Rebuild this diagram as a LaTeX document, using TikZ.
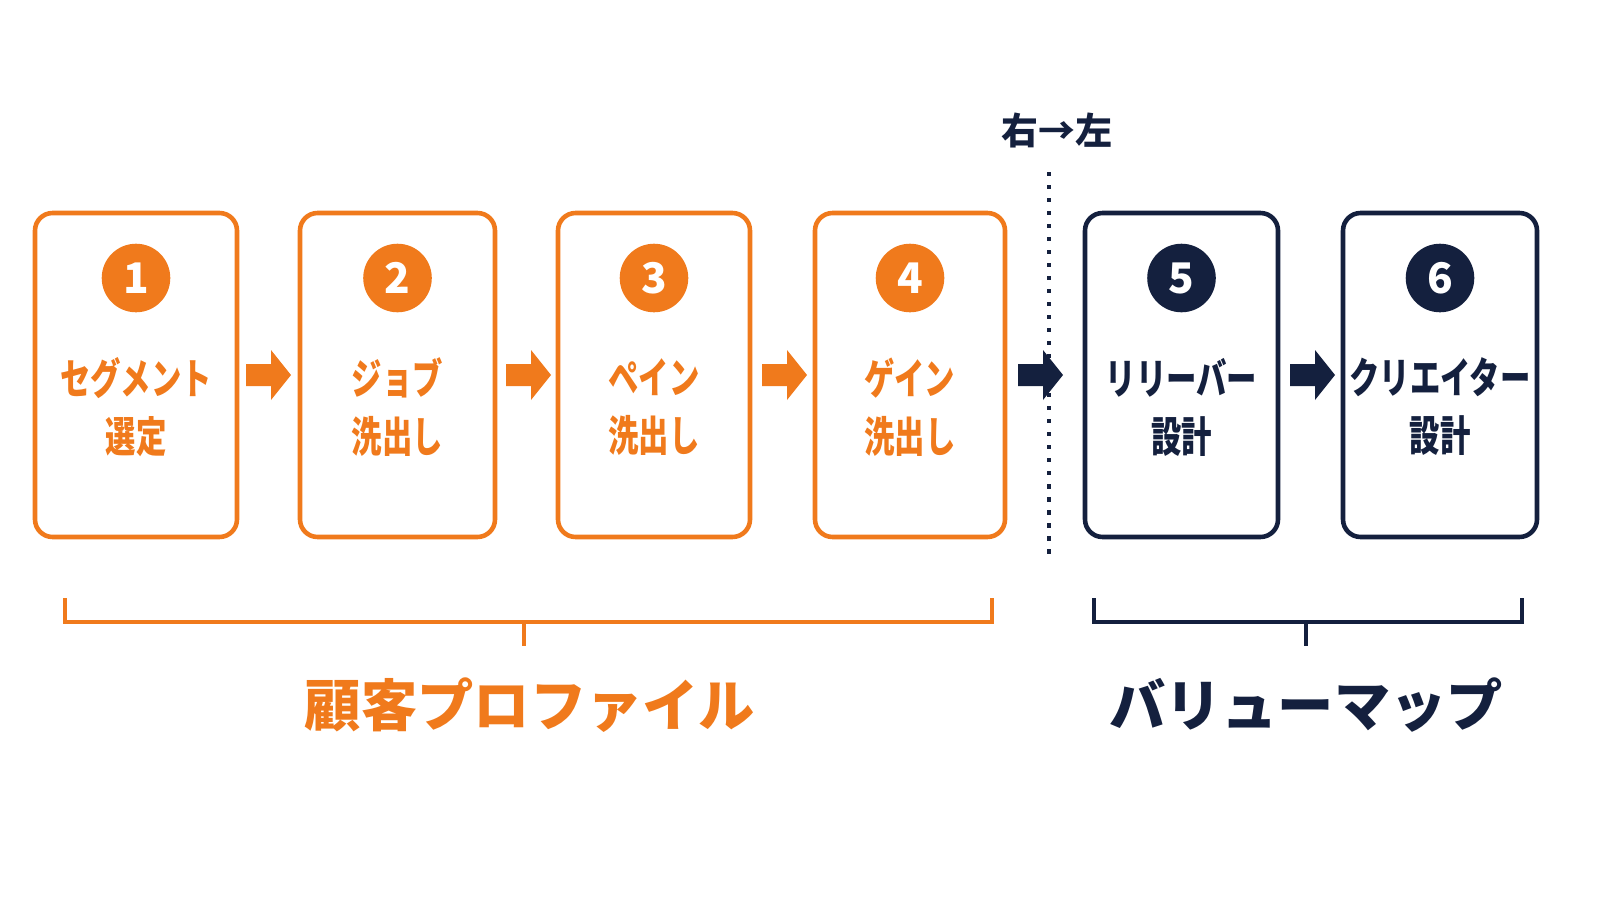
\documentclass[tikz,border=0pt]{standalone}
\usepackage{fontspec}
\setmainfont{Noto Sans CJK JP}
\newfontfamily\narrowjp[FakeStretch=0.72]{Noto Sans CJK JP}
\usetikzlibrary{calc}
\definecolor{ora}{HTML}{F07A1C}
\definecolor{nav}{HTML}{14203E}
\tikzset{
  step/.style={draw=#1,line width=1.3pt,rounded corners=5pt},
  num/.style={circle,fill=#1,text=white,minimum size=19.5pt,inner sep=0pt,font=\bfseries\fontsize{12}{12}\selectfont},
  title/.style={text=#1,align=center,inner sep=0pt,font=\narrowjp\bfseries\fontsize{12}{16.5}\selectfont},
  brace/.style={draw=#1,line width=1.1pt}
}
\newcommand\blockarrow[2]{\fill[#1] (#2) ++(-22,-11) -- ++(25,0) -- ++(0,-14) -- ++(20,25) -- ++(-20,25) -- ++(0,-14) -- ++(-25,0) -- cycle;}
\begin{document}
\begin{tikzpicture}[x=0.01cm,y=-0.01cm]
% cards
\foreach \n/\xa/\xb/\c/\t in {1/35/237/ora/{セグメント\\選定},2/300/495/ora/{ジョブ\\洗出し},3/558/750/ora/{ペイン\\洗出し},4/815/1005/ora/{ゲイン\\洗出し},5/1085/1278/nav/{リリーバー\\設計},6/1343/1537/nav/{クリエイター\\設計}}{
  \draw[step=\c] (\xa,213) rectangle (\xb,537);
  \node[num=\c] (n\n) at ({(\xa+\xb)/2},278) {\n};
  \node[title=\c] (t\n) at ({(\xa+\xb)/2},407) {\t};
}
% arrows
\coordinate (a1) at (268,375);
\coordinate (a2) at (528,375);
\coordinate (a3) at (784,375);
\coordinate (a4) at (1040,375);
\coordinate (a5) at (1312,375);
% divider
\coordinate (d1) at (1049,172);
\coordinate (d2) at (1049,562);
\draw[nav,line width=1pt,dash pattern=on 1.2pt off 2.5pt] (d1) -- (d2);
\blockarrow{ora}{a1}
\blockarrow{ora}{a2}
\blockarrow{ora}{a3}
\blockarrow{nav}{a4}
\blockarrow{nav}{a5}
\node[text=nav,font=\bfseries\fontsize{10.5}{10.5}\selectfont] (rl) at (1057,130) {右→左};
% brackets
\draw[brace=ora] (65,598) -- (65,622) -- (992,622) -- (992,598);
\draw[brace=ora] (524,622) -- (524,646);
\node[text=ora,font=\bfseries\fontsize{16}{16}\selectfont] (cp) at (530,705) {顧客プロファイル};
\draw[brace=nav] (1094,598) -- (1094,622) -- (1522,622) -- (1522,598);
\draw[brace=nav] (1306,622) -- (1306,646);
\node[text=nav,font=\bfseries\fontsize{16}{16}\selectfont] (vm) at (1306,705) {バリューマップ};
\pgfresetboundingbox
\useasboundingbox (0,0) rectangle (1600,900);
\end{tikzpicture}
\end{document}
